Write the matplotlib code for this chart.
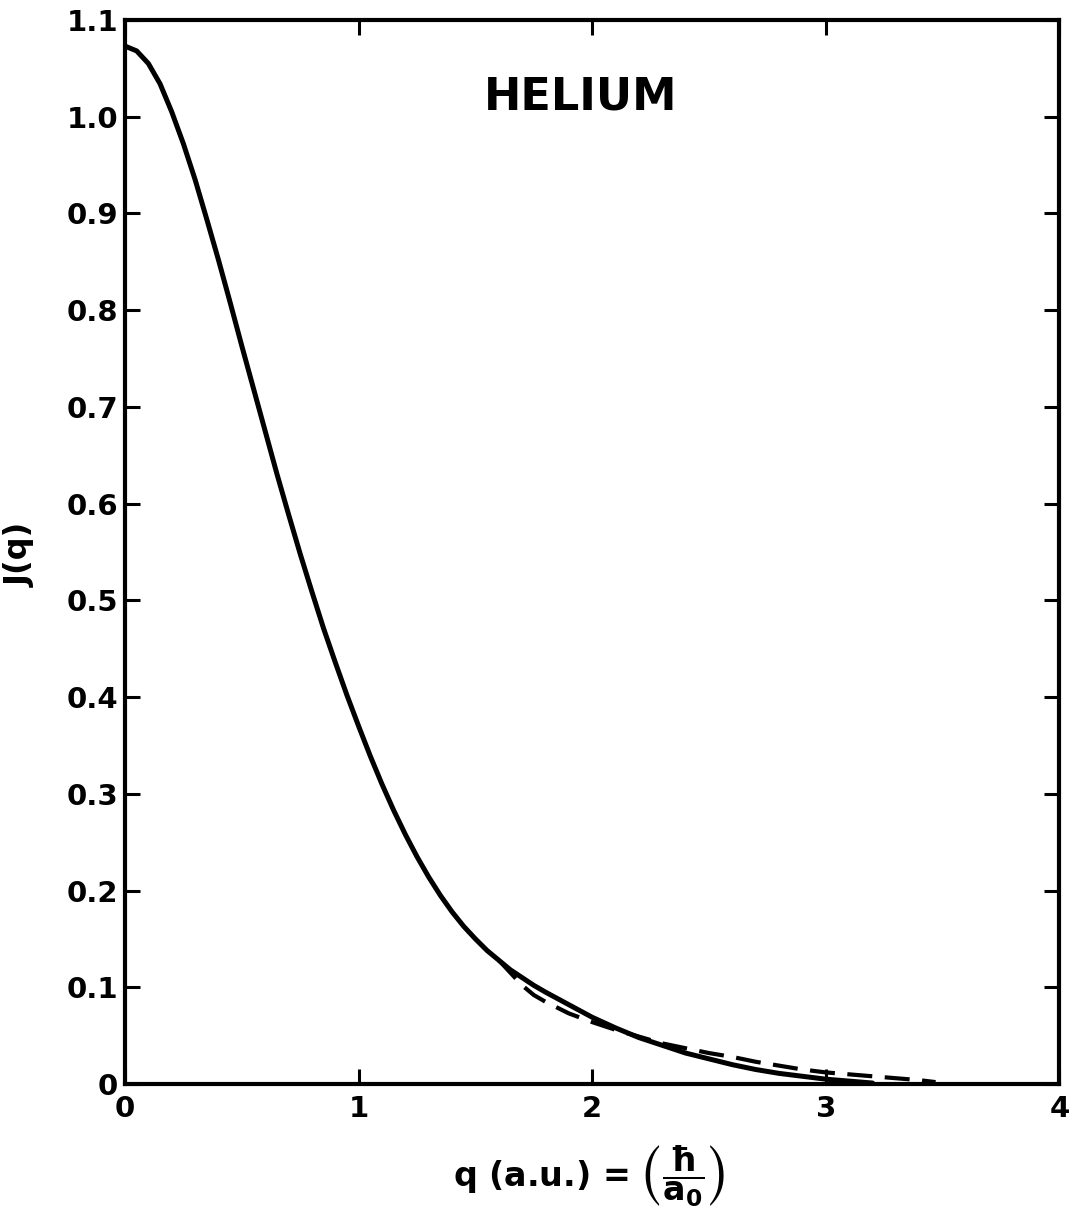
import matplotlib
matplotlib.use("Agg")
import matplotlib.pyplot as plt

# Compton profile of helium
q_solid = [0.00, 0.05, 0.10, 0.15, 0.20, 0.25, 0.30, 0.35, 0.40, 0.45, 0.50,
           0.55, 0.60, 0.65, 0.70, 0.75, 0.80, 0.85, 0.90, 0.95, 1.00, 1.05,
           1.10, 1.15, 1.20, 1.25, 1.30, 1.35, 1.40, 1.45, 1.50, 1.55, 1.60,
           1.65, 1.70, 1.75, 1.80, 1.90, 2.00, 2.10, 2.20, 2.30, 2.40, 2.50,
           2.60, 2.70, 2.80, 2.90, 3.00, 3.10, 3.20]
J_solid = [1.073, 1.068, 1.055, 1.034, 1.005, 0.972, 0.935, 0.894, 0.852, 0.808,
           0.763, 0.719, 0.675, 0.631, 0.589, 0.548, 0.509, 0.471, 0.436, 0.402,
           0.370, 0.339, 0.310, 0.283, 0.258, 0.235, 0.214, 0.195, 0.178, 0.163,
           0.150, 0.138, 0.128, 0.118, 0.110, 0.102, 0.095, 0.082, 0.069, 0.058,
           0.048, 0.040, 0.032, 0.026, 0.020, 0.015, 0.011, 0.008, 0.005, 0.003,
           0.001]

q_dash = [1.60, 1.65, 1.70, 1.75, 1.80, 1.85, 1.90, 2.00, 2.10, 2.20, 2.30,
          2.40, 2.50, 2.60, 2.70, 2.80, 2.90, 3.00, 3.10, 3.20, 3.30, 3.40, 3.47]
J_dash = [0.128, 0.115, 0.102, 0.092, 0.085, 0.079, 0.073, 0.064, 0.056, 0.049,
          0.042, 0.037, 0.032, 0.028, 0.023, 0.019, 0.015, 0.012, 0.010, 0.008,
          0.006, 0.004, 0.002]

x_ticks = [0, 1, 2, 3, 4]
y_ticks = [0, 0.1, 0.2, 0.3, 0.4, 0.5, 0.6, 0.7, 0.8, 0.9, 1.0, 1.1]
y_labels = ['0', '0.1', '0.2', '0.3', '0.4', '0.5', '0.6', '0.7', '0.8', '0.9', '1.0', '1.1']

plt.rcParams['font.family'] = ['DejaVu Sans']
plt.rcParams['font.weight'] = 'bold'
plt.rcParams['mathtext.fontset'] = 'dejavusans'
plt.rcParams['mathtext.default'] = 'bf'

fig = plt.figure(figsize=(10.74, 12.18), dpi=100)
ax = fig.add_axes([0.1164, 0.110, 0.870, 0.8736])

ax.plot(q_solid, J_solid, color='black', lw=3.6, solid_capstyle='round',
        solid_joinstyle='round')
ax.plot(q_dash, J_dash, color='black', lw=3.0, dashes=(6, 3))

ax.set_xlim(0, 4)
ax.set_ylim(0, 1.1)

for s in ax.spines.values():
    s.set_linewidth(3.0)

ax.set_xticks(x_ticks)
ax.set_yticks(y_ticks)
ax.set_yticklabels(y_labels)
ax.tick_params(axis='both', direction='in', length=11, width=2.2,
               labelsize=21, top=True, right=True)
ax.tick_params(axis='x', pad=8)
ax.tick_params(axis='y', pad=5)
for lab in ax.get_xticklabels() + ax.get_yticklabels():
    lab.set_fontweight('bold')

ax.text(1.95, 1.02, 'HELIUM', ha='center', va='center', fontsize=32,
        fontweight='bold')

ax.set_ylabel('J(q)', fontsize=23, fontweight='bold')
ax.yaxis.set_label_coords(-0.095, 0.497)
ax.set_xlabel(r'q (a.u.) = $\left(\dfrac{\hbar}{a_0}\right)$', fontsize=24,
              fontweight='bold')
ax.xaxis.set_label_coords(0.497, -0.056)

fig.savefig('out.png', dpi=100)
